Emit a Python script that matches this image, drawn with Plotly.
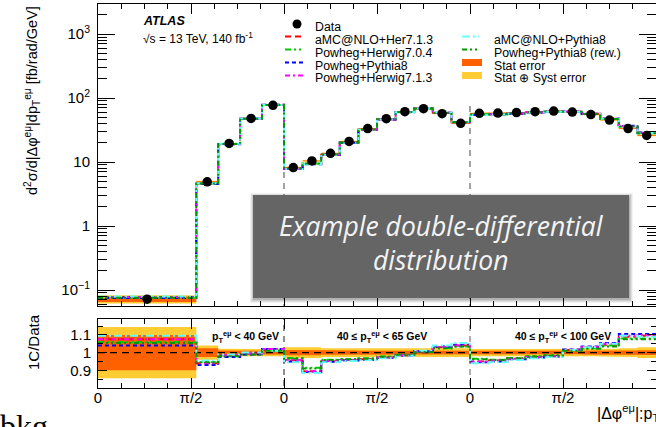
import numpy as np
import plotly.graph_objects as go

W, H = 656, 427
PI = np.pi

# ---------------- data ----------------
# bin edges in |dphi| (rad) for the three pT regions
EDGES_R1 = [0.0, 1.66, 2.03, 2.40, 2.77, PI]
EDGES_R2 = [k * PI / 10 for k in range(11)]
EDGES_R3 = [k * PI / 10 for k in range(11)]

# measured cross sections [fb/rad/GeV]
DATA_R1 = [0.072, 4.9, 19.5, 48.0, 77.0]
DATA_R2 = [8.2, 10.4, 13.7, 21.0, 33.3, 47.6, 61.3, 68.2, 57.0, 40.3]
DATA_R3 = [57.7, 58.3, 59.2, 61.3, 62.7, 60.4, 55.1, 45.3, 33.3, 26.1]

# relative uncertainties
STAT_R1 = [0.10, 0.025, 0.012, 0.010, 0.010]
STAT_R2 = [0.015, 0.015, 0.012, 0.012, 0.010, 0.010, 0.010, 0.010, 0.010, 0.012]
STAT_R3 = [0.010, 0.010, 0.009, 0.009, 0.009, 0.009, 0.010, 0.010, 0.012, 0.014]
TOT_R1 = [0.145, 0.040, 0.022, 0.020, 0.020]
TOT_R2 = [0.030, 0.030, 0.025, 0.025, 0.022, 0.022, 0.022, 0.022, 0.022, 0.025]
TOT_R3 = [0.020, 0.020, 0.018, 0.018, 0.018, 0.018, 0.020, 0.022, 0.025, 0.030]

# MC / Data ratios
MC_NAMES = ["aMC@NLO+Her7.1.3", "Powheg+Herwig7.0.4", "Powheg+Pythia8",
            "Powheg+Herwig7.1.3", "aMC@NLO+Pythia8", "Powheg+Pythia8 (rew.)"]
RATIO_AMC_HER = [1.075, 0.940, 0.985, 0.995, 1.015,
                 0.955, 0.895, 0.950, 0.958, 0.962, 0.972, 0.985, 1.005, 1.030, 1.040,
                 0.950, 0.955, 0.965, 0.975, 0.980, 1.015, 1.030, 1.045, 1.090, 1.095]
RATIO_PH704 = [1.060, 0.945, 0.980, 0.990, 1.010,
               0.970, 0.915, 0.960, 0.962, 0.968, 0.978, 0.988, 1.005, 1.025, 1.035,
               0.965, 0.960, 0.970, 0.980, 0.985, 1.012, 1.025, 1.040, 1.080, 1.080]
RATIO_PP8 = [1.040, 0.930, 0.975, 0.990, 1.020,
             0.950, 0.890, 0.948, 0.955, 0.960, 0.970, 0.982, 1.008, 1.035, 1.045,
             0.945, 0.950, 0.962, 0.972, 0.978, 1.018, 1.035, 1.055, 1.105, 1.105]
RATIO_PH713 = [1.075, 0.940, 0.985, 0.995, 1.020,
               0.960, 0.895, 0.952, 0.958, 0.963, 0.973, 0.985, 1.006, 1.032, 1.040,
               0.950, 0.955, 0.965, 0.975, 0.980, 1.016, 1.032, 1.050, 1.095, 1.100]
RATIO_AMC_P8 = [1.095, 0.955, 0.990, 1.000, 1.010,
                0.945, 0.885, 0.945, 0.952, 0.958, 0.968, 0.982, 1.010, 1.040, 1.055,
                0.940, 0.945, 0.958, 0.968, 0.975, 1.015, 1.030, 1.050, 1.095, 1.090]
RATIO_PP8_REW = [1.055, 0.945, 0.980, 0.990, 1.010,
                 0.965, 0.910, 0.958, 0.962, 0.966, 0.976, 0.988, 1.004, 1.025, 1.035,
                 0.962, 0.958, 0.968, 0.978, 0.983, 1.010, 1.022, 1.035, 1.075, 1.075]

REGION_TEXT = ["<b>p<sub>T</sub><sup>eμ</sup> &lt; 40 GeV</b>",
               "<b>40 ≤ p<sub>T</sub><sup>eμ</sup> &lt; 65 GeV</b>",
               "<b>40 ≤ p<sub>T</sub><sup>eμ</sup> &lt; 100 GeV</b>"]
XTICK_VALS = [0, PI / 2, PI, 3 * PI / 2, 2 * PI, 5 * PI / 2]
XTICK_TEXT = ["0", "π/2", "0", "π/2", "0", "π/2"]

# ---------------- styles ----------------
MC_COLORS = ["#ff0000", "#00cc00", "#0000ff", "#ff00ff", "#66ffff", "#009900"]
MC_DASH = ["6px,4px", "6px,3px,2px,3px,2px,3px", "4px,3px", "5px,3px,2px,3px",
           "8px,3px,2px,3px", "5px,3px,2px,3px,2px,3px"]
C_STAT = "#ff6000"
C_TOT = "#ffcc33"
FONT = "Liberation Sans, Arial, sans-serif"

# ---------------- build bins ----------------
edges = list(EDGES_R1) + [PI + e for e in EDGES_R2[1:]] + [2 * PI + e for e in EDGES_R3[1:]]
data = np.array(DATA_R1 + DATA_R2 + DATA_R3)
stat = np.array(STAT_R1 + STAT_R2 + STAT_R3)
tot = np.array(TOT_R1 + TOT_R2 + TOT_R3)
ratios = [RATIO_AMC_HER, RATIO_PH704, RATIO_PP8, RATIO_PH713, RATIO_AMC_P8, RATIO_PP8_REW]
centers = [(edges[i] + edges[i + 1]) / 2 for i in range(len(data))]


def step(vals):
    return list(edges), list(vals) + [vals[-1]]


def band(lo, hi):
    xs, ys = [], []
    for i in range(len(lo)):
        xs += [edges[i], edges[i + 1]]
        ys += [hi[i], hi[i]]
    for i in reversed(range(len(lo))):
        xs += [edges[i + 1], edges[i]]
        ys += [lo[i], lo[i]]
    return xs, ys


fig = go.Figure()

# uncertainty bands
for rel, col in [(tot, C_TOT), (stat, C_STAT)]:
    bx, by = band(data * (1 - rel), data * (1 + rel))
    fig.add_trace(go.Scatter(x=bx, y=by, fill="toself", fillcolor=col, mode="lines",
                             line=dict(width=0), xaxis="x", yaxis="y", hoverinfo="skip"))
    bx, by = band(1 - rel, 1 + rel)
    fig.add_trace(go.Scatter(x=bx, y=by, fill="toself", fillcolor=col, mode="lines",
                             line=dict(width=0), xaxis="x2", yaxis="y2", hoverinfo="skip"))

# region separators
SEP_TOP = 85
for k in (1, 2):
    fig.add_trace(go.Scatter(x=[k * PI, k * PI], y=[0.01, SEP_TOP], mode="lines",
                             line=dict(color="#666666", width=1.2, dash="6px,5px"),
                             xaxis="x", yaxis="y", hoverinfo="skip"))
    fig.add_trace(go.Scatter(x=[k * PI, k * PI], y=[0.5, 1.5], mode="lines",
                             line=dict(color="#444444" if k == 1 else "#777777", width=1.2, dash="6px,5px"),
                             xaxis="x2", yaxis="y2", hoverinfo="skip"))

# unity line
fig.add_trace(go.Scatter(x=[0, 3 * PI], y=[1, 1], mode="lines",
                         line=dict(color="black", width=1.4, dash="7px,5px"),
                         xaxis="x2", yaxis="y2", hoverinfo="skip"))

# MC histograms
for name, r, col, dash in zip(MC_NAMES, ratios, MC_COLORS, MC_DASH):
    r = np.array(r)
    sx, sy = step(data * r)
    fig.add_trace(go.Scatter(x=sx, y=sy, mode="lines", line_shape="hv", name=name,
                             line=dict(color=col, width=2, dash=dash), xaxis="x", yaxis="y"))
    sx, sy = step(r)
    fig.add_trace(go.Scatter(x=sx, y=sy, mode="lines", line_shape="hv", name=name,
                             line=dict(color=col, width=2, dash=dash), xaxis="x2", yaxis="y2"))

# data points
fig.add_trace(go.Scatter(x=centers, y=data, mode="markers", name="Data",
                         marker=dict(color="black", size=9.5), xaxis="x", yaxis="y"))

# ---------------- layout helpers ----------------
def X(px):
    return px / W


def Y(py):
    return 1 - py / H


MAIN_TOP, MAIN_BOT, RAT_TOP, RAT_BOT, LEFT = 4, 306, 319, 388, 98

ann = []
shapes = []

# ATLAS label
ann.append(dict(x=X(141), y=Y(21), text="<b><i>ATLAS</i></b>", xanchor="left", yanchor="middle",
                font=dict(family=FONT, size=12.5, color="black")))
ann.append(dict(x=X(141), y=Y(38.5), text="√s = 13 TeV, 140 fb<sup>-1</sup>", xanchor="left",
                yanchor="middle", font=dict(family=FONT, size=12, color="black")))

# legend
ROW = [24, 36.5, 49.5, 62.5, 75.5]
TXT_DY = 3
col1 = [("Data", None)] + [(MC_NAMES[i], i) for i in range(4)]
for (label, idx), yy in zip(col1, ROW):
    if idx is None:
        shapes.append(dict(type="circle", xref="paper", yref="paper", x0=X(292.5), x1=X(301.5),
                           y0=Y(yy + 4.5), y1=Y(yy - 4.5), fillcolor="black", line=dict(width=0)))
    else:
        shapes.append(dict(type="line", xref="paper", yref="paper", x0=X(285), x1=X(304),
                           y0=Y(yy), y1=Y(yy), line=dict(color=MC_COLORS[idx], width=2, dash=MC_DASH[idx])))
    ann.append(dict(x=X(313), y=Y(yy + TXT_DY), text=label, xanchor="left", yanchor="middle",
                    font=dict(family=FONT, size=12.3, color="black")))
col2 = [(MC_NAMES[4], 4), (MC_NAMES[5], 5), ("Stat error", "stat"), ("Stat ⊕ Syst error", "tot")]
for (label, idx), yy in zip(col2, ROW[1:]):
    if idx == "stat" or idx == "tot":
        shapes.append(dict(type="rect", xref="paper", yref="paper", x0=X(462), x1=X(482),
                           y0=Y(yy + 3.5), y1=Y(yy - 3.5), fillcolor=C_STAT if idx == "stat" else C_TOT,
                           line=dict(width=0)))
    else:
        shapes.append(dict(type="line", xref="paper", yref="paper", x0=X(462), x1=X(479),
                           y0=Y(yy), y1=Y(yy), line=dict(color=MC_COLORS[idx], width=2, dash=MC_DASH[idx])))
    ann.append(dict(x=X(492), y=Y(yy + TXT_DY), text=label, xanchor="left", yanchor="middle",
                    font=dict(family=FONT, size=12.3, color="black")))

# region labels in ratio panel
for txt, xx in zip(REGION_TEXT, [210, 335, 513]):
    ann.append(dict(x=X(xx), y=Y(337), text=txt, xanchor="left", yanchor="middle",
                    font=dict(family=FONT, size=10.5, color="black")))

# axis titles
ann.append(dict(x=X(32), y=Y(101), textangle=-90, xanchor="center", yanchor="middle",
                text="d<sup>2</sup>σ/d|Δφ<sup>eμ</sup>|dp<sub>T</sub><sup>eμ</sup> [fb/rad/GeV]",
                font=dict(family=FONT, size=14.5, color="black")))
ann.append(dict(x=X(33), y=Y(342), textangle=-90, xanchor="center", yanchor="middle",
                text="1C/Data", font=dict(family=FONT, size=15, color="black")))
ann.append(dict(x=X(595), y=Y(413), xanchor="left", yanchor="middle",
                text="|Δφ<sup>eμ</sup>|:p<sub>T</sub><sup>eμ</sup>",
                font=dict(family=FONT, size=16, color="black")))
ann.append(dict(x=X(-2), y=Y(426), xanchor="left", yanchor="middle", text="bkg",
                font=dict(family="Liberation Serif, DejaVu Serif, serif", size=32, color="black")))

# overlay box with shadow
BX0, BX1, BY0, BY1 = 253, 629, 195, 298
for d, op in [(4, 0.05), (3, 0.07), (2, 0.09), (1, 0.12)]:
    shapes.append(dict(type="rect", xref="paper", yref="paper", layer="above",
                       x0=X(BX0 - d + 1), x1=X(BX1 + d), y0=Y(BY1 + d + 1), y1=Y(BY0 - d + 2),
                       fillcolor="rgba(0,0,0,%.2f)" % op, line=dict(width=0)))
shapes.append(dict(type="rect", xref="paper", yref="paper", layer="above",
                   x0=X(BX0), x1=X(BX1), y0=Y(BY1), y1=Y(BY0),
                   fillcolor="#656565", line=dict(width=0)))
ann.append(dict(x=X((BX0 + BX1) / 2), y=Y(243), xanchor="center", yanchor="middle",
                text="<i>Example double-differential<br>distribution</i>",
                font=dict(family="Open Sans, Noto Sans, sans-serif", size=26.5, color="#f4f4f4")))

main_dom = [Y(MAIN_BOT), Y(MAIN_TOP)]
rat_dom = [Y(RAT_BOT), Y(RAT_TOP)]
xdom = [X(LEFT), 1.0]

xminor = dict(tickmode="array", tickvals=[k * PI / 8 for k in range(25) if k % 4 != 0],
              ticks="inside", ticklen=5, tickcolor="black", showgrid=False)
common_x = dict(domain=xdom, range=[0, 3 * PI], showgrid=False, zeroline=False, showline=True,
                linecolor="black", linewidth=1, mirror="allticks", ticks="inside", ticklen=10,
                tickcolor="black", tickmode="array", automargin=False, minor=xminor)

major_logs = [0.1, 1, 10, 100, 1000]
minor_logs = [m * 10.0 ** e for e in range(-2, 4) for m in range(2, 10)]
minor_logs = [v for v in minor_logs if 0.056 < v < 2950]

fig.update_layout(
    width=W, height=H, margin=dict(l=0, r=0, t=0, b=0),
    paper_bgcolor="white", plot_bgcolor="white", showlegend=False, template="none",
    xaxis=dict(**common_x, anchor="y", tickvals=XTICK_VALS + [3 * PI], showticklabels=False),
    xaxis2=dict(**common_x, anchor="y2", matches="x", tickvals=XTICK_VALS, ticktext=XTICK_TEXT,
                showticklabels=True, ticklabelstandoff=-4,
                tickfont=dict(family=FONT, size=15, color="black")),
    yaxis=dict(domain=main_dom, type="log", range=[-1.25, 3.47], anchor="x",
               tickmode="array", tickvals=major_logs,
               ticktext=["10<sup>−1</sup>", "1", "10", "10<sup>2</sup>", "10<sup>3</sup>"],
               ticks="inside", ticklen=17, tickcolor="black", showline=True, linecolor="black",
               linewidth=1, mirror="allticks", showgrid=False, zeroline=False, automargin=False,
               tickfont=dict(family=FONT, size=15, color="black"), ticklabelstandoff=4,
               minor=dict(tickmode="array", tickvals=minor_logs, ticks="inside", ticklen=9,
                          tickcolor="black", showgrid=False)),
    yaxis2=dict(domain=rat_dom, range=[0.80, 1.19], anchor="x2", tickmode="array",
                tickvals=[0.9, 1.0, 1.1], ticktext=["0.9", "1", "1.1"],
                ticks="inside", ticklen=9, tickcolor="black", showline=True, linecolor="black",
                linewidth=1, mirror="allticks", showgrid=False, zeroline=False, automargin=False,
                tickfont=dict(family=FONT, size=15, color="black"), ticklabelstandoff=3,
                minor=dict(tickmode="array", tickvals=[0.85, 0.95, 1.05, 1.15], ticks="inside",
                           ticklen=5, tickcolor="black", showgrid=False)),
    annotations=[dict(a, xref="paper", yref="paper", showarrow=False) for a in ann],
    shapes=shapes,
)

fig.write_html("out.html", config={"displayModeBar": False},
               post_script="document.body.style.margin='0';document.body.style.overflow='hidden';")
